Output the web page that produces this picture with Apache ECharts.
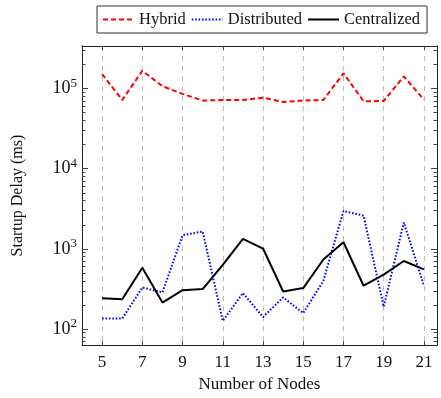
<!DOCTYPE html>
<html>
<head>
<meta charset="utf-8">
<script src="https://cdn.jsdelivr.net/npm/echarts@6/dist/echarts.min.js"></script>
<style>
  html, body { margin: 0; padding: 0; background: #fff; }
  #chart { width: 441px; height: 398px; }
</style>
</head>
<body>
<div id="chart"></div>
<script>
const nodes = [5, 6, 7, 8, 9, 10, 11, 12, 13, 14, 15, 16, 17, 18, 19, 20, 21]
const hybrid = [152000, 72000, 167000, 107000, 86000, 71000, 72000, 72000, 77000, 68000, 71000, 72000, 155000, 69500, 70000, 142000, 73000]
const distributed = [135, 135, 330, 286, 1480, 1650, 126, 281, 141, 248, 158, 399, 2970, 2600, 190, 2140, 347]
const centralized = [242, 235, 582, 214, 305, 315, 630, 1330, 1010, 294, 324, 738, 1210, 347, 477, 705, 555]
const xTicks = [5, 7, 9, 11, 13, 15, 17, 19, 21]
const yMajor = [100, 1000, 10000, 100000]
const yMinor = [70, 80, 90, 200, 300, 400, 500, 600, 700, 800, 900, 2000, 3000, 4000, 5000, 6000, 7000, 8000, 9000,
  20000, 30000, 40000, 50000, 60000, 70000, 80000, 90000, 200000, 300000]

const font = 'Liberation Serif'
const yMin = 63
const yMax = 340000

const pair = (xs, ys) => xs.map((x, i) => [x, ys[i]])

const yAxisBase = (pos, ticks, len, withLabels) => ({
    type: 'log',
    position: pos,
    min: yMin,
    max: yMax,
    axisLine: { show: true, lineStyle: { color: '#222', width: 1 } },
    axisTick: { show: true, inside: true, length: len, customValues: ticks, lineStyle: { color: '#444' } },
    axisLabel: withLabels ? {
        customValues: ticks,
        fontFamily: font, fontSize: 18, color: '#111', margin: 5,
        formatter: v => '10{sup|' + Math.round(Math.log10(v)) + '}',
        rich: { sup: { fontFamily: font, fontSize: 13, color: '#111', verticalAlign: 'bottom', padding: [0, 0, 10, 0] } }
    } : { show: false },
    splitLine: { show: false },
    minorTick: { show: false }
})

const chart = echarts.init(document.getElementById('chart'))
chart.setOption({
    animation: false,
    backgroundColor: '#fff',
    grid: { left: 82, right: 4, top: 46, bottom: 50, containLabel: false },
    legend: {
        top: 6, left: 97,
        padding: [5, 7, 5, 5],
        itemWidth: 31, itemHeight: 14, itemGap: 5,
        backgroundColor: '#fff',
        borderColor: '#333', borderWidth: 1, borderRadius: 0,
        itemStyle: { opacity: 0 },
        textStyle: { fontFamily: font, fontSize: 16.5, color: '#111' },
        data: ['Hybrid', 'Distributed', 'Centralized']
    },
    xAxis: [{
        type: 'value',
        position: 'bottom',
        min: 4, max: 21.65,
        name: 'Number of Nodes', nameLocation: 'middle', nameGap: 30,
        nameTextStyle: { fontFamily: font, fontSize: 17, color: '#111' },
        axisLine: { lineStyle: { color: '#222', width: 1 } },
        axisTick: { inside: true, length: 4, customValues: xTicks, lineStyle: { color: '#444' } },
        axisLabel: { customValues: xTicks, fontFamily: font, fontSize: 17, color: '#111', margin: 9 },
        splitLine: { show: true, lineStyle: { color: '#bbb', type: [5, 5], width: 1 } }
    }, {
        type: 'value',
        position: 'top',
        min: 4, max: 21.65,
        axisLine: { lineStyle: { color: '#222', width: 1 } },
        axisTick: { inside: true, length: 4, customValues: xTicks, lineStyle: { color: '#444' } },
        axisLabel: { show: false },
        splitLine: { show: false }
    }],
    yAxis: [
        Object.assign(yAxisBase('left', yMajor, 6, true), {
            name: 'Startup Delay (ms)', nameLocation: 'middle', nameGap: 56,
            nameTextStyle: { fontFamily: font, fontSize: 16, color: '#111' }
        }),
        yAxisBase('left', yMinor, 3.5, false),
        yAxisBase('right', yMajor, 6, false),
        yAxisBase('right', yMinor, 3.5, false)
    ],
    series: [{
        name: 'Hybrid', type: 'line', symbol: 'none',
        data: pair(nodes, hybrid),
        lineStyle: { color: '#f00', width: 2, type: [5, 3] },
        itemStyle: { color: '#f00' }
    }, {
        name: 'Distributed', type: 'line', symbol: 'none',
        data: pair(nodes, distributed),
        lineStyle: { color: '#00f', width: 2, type: [1.6, 1.8] },
        itemStyle: { color: '#00f' }
    }, {
        name: 'Centralized', type: 'line', symbol: 'none',
        data: pair(nodes, centralized),
        lineStyle: { color: '#000', width: 2 },
        itemStyle: { color: '#000' }
    }]
})
</script>
</body>
</html>
